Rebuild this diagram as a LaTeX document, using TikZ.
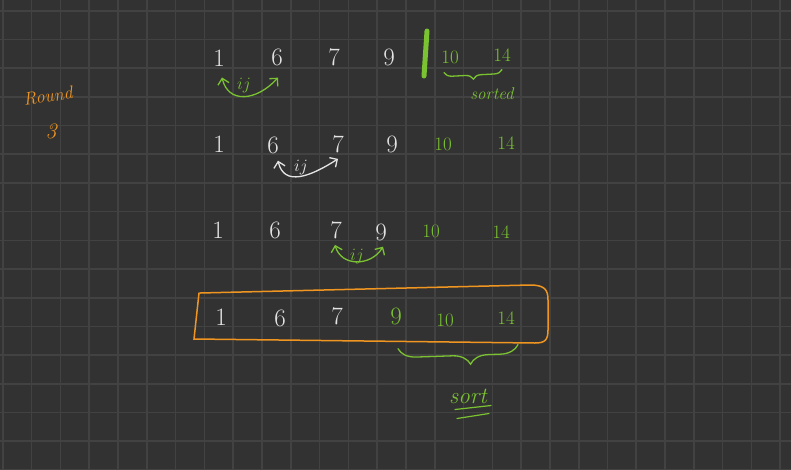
\documentclass[tikz,border=0pt]{standalone}
\usepackage{amsmath,amssymb}
\usepackage{tikz}
\usetikzlibrary{arrows.meta,decorations.pathreplacing}
\usepackage{xcolor}
\definecolor{board}{RGB}{50,50,50}
\definecolor{boardline}{RGB}{66,66,66}
\definecolor{chalk}{RGB}{228,228,228}
\definecolor{lime}{RGB}{122,194,49}
\definecolor{marker}{RGB}{240,150,32}

\begin{document}
\begin{tikzpicture}[x=1pt,y=-1pt,>={Straight Barb[length=2mm]},line cap=round,
  num/.style={text=chalk,inner sep=0pt,font=\fontsize{25}{25}\selectfont},
  done/.style={num,text=lime,font=\fontsize{19}{19}\selectfont},
  ijarc/.style={<->,line width=1.3pt},
  ijtag/.style={inner sep=0pt,font=\fontsize{18}{18}\selectfont},
  hand/.style={inner sep=0pt,font=\itshape\fontsize{17}{17}\selectfont}]
\useasboundingbox (0,0) rectangle (791,469);
\fill[board] (0,0) rectangle (791,469);
\foreach \gx in {0,...,27} \draw[boardline,line width=1.6pt] (2.9+28.79*\gx,0) -- (2.9+28.79*\gx,469);
\foreach \gy in {0,...,16} \draw[boardline,line width=1.6pt] (0,10.7+28.7*\gy) -- (791,10.7+28.7*\gy);
% round label
\node[hand,text=marker,rotate=8,font=\itshape\fontsize{18}{18}\selectfont] (round) at (48,96) {Round};
\node[hand,text=marker,font=\itshape\fontsize{22}{22}\selectfont] (roundno) at (51,131) {3};
% first pass
\node[num] (r1a) at (219,58) {1};
\node[num] (r1b) at (277,57) {6};
\node[num] (r1c) at (334,57) {7};
\node[num] (r1d) at (389,57) {9};
\node[done] (r1e) at (450,57) {10};
\node[done] (r1f) at (502,55) {14};
\draw[lime,line width=5pt] (427,31) -- (424,76);
\draw[ijarc,lime] ([xshift=3pt,yshift=-11pt]r1a.south) .. controls +(6,26) and +(-22,24) .. ([xshift=1pt,yshift=-12pt]r1b.south);
\node[ijtag,text=lime] (ij1) at (244,86) {$ij$};
\draw[lime,line width=1.3pt,decorate,decoration={brace,mirror,amplitude=8pt}] ([xshift=-6pt,yshift=-9pt]r1e.south) -- ([yshift=-8pt]r1f.south);
\node[hand,text=lime,font=\itshape\fontsize{17}{17}\selectfont] (sorted) at (492,94) {sorted};
% second pass
\node[num] (r2a) at (219,144) {1};
\node[num] (r2b) at (273,145) {6};
\node[num] (r2c) at (338,144) {7};
\node[num] (r2d) at (392,144) {9};
\node[done] (r2e) at (443,144) {10};
\node[done] (r2f) at (506,143) {14};
\draw[ijarc,chalk] ([xshift=5pt,yshift=-7pt]r2b.south) .. controls +(6,26) and +(-28,18) .. ([yshift=-6pt]r2c.south);
\node[ijtag,text=chalk] (ij2) at (301,168) {$ij$};
% third pass
\node[num] (r3a) at (218,230) {1};
\node[num] (r3b) at (275,230) {6};
\node[num] (r3c) at (336,230) {7};
\node[num] (r3d) at (381,232) {9};
\node[done] (r3e) at (431,231) {10};
\node[done] (r3f) at (501,232) {14};
\draw[ijarc,lime] ([xshift=-1pt,yshift=-6pt]r3c.south) .. controls +(6,22) and +(-12,20) .. ([xshift=2pt,yshift=-6pt]r3d.south);
\node[ijtag,text=lime] (ij3) at (357,257) {$ij$};
% result
\node[num] (r4a) at (221,317) {1};
\node[num] (r4b) at (280,318) {6};
\node[num] (r4c) at (337,316) {7};
\node[num,text=lime] (r4d) at (396,316) {9};
\node[done] (r4e) at (445,320) {10};
\node[done] (r4f) at (506,318) {14};
\draw[marker,line width=1.5pt] (200,293) -- (530,285) .. controls (545,285) and (548,290) .. (548,300) -- (548,330) .. controls (548,340) and (545,343) .. (535,343) -- (194,339) -- (199,293);
\draw[lime,line width=1.3pt,decorate,decoration={brace,mirror,amplitude=18pt,aspect=0.6}] ([xshift=2pt,yshift=-24pt]r4d.south) -- ([xshift=12pt,yshift=-20pt]r4f.south);
\node[hand,text=lime,font=\itshape\fontsize{23}{23}\selectfont] (sortnote) at (468,396) {sort};
\draw[lime,line width=1.2pt] ([xshift=6pt,yshift=-6pt]sortnote.south west) -- ([xshift=4pt,yshift=-2pt]sortnote.south east);
\draw[lime,line width=1.2pt] ([xshift=8pt,yshift=-15pt]sortnote.south west) -- ([xshift=2pt,yshift=-10pt]sortnote.south east);
\end{tikzpicture}
\end{document}
